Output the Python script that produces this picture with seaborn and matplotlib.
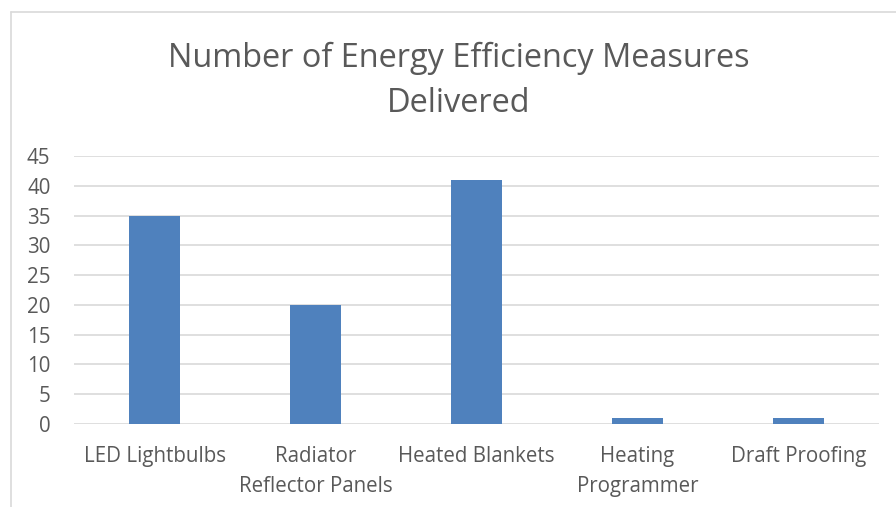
import matplotlib
matplotlib.use("Agg")
import matplotlib.pyplot as plt
import seaborn as sns
import pandas as pd
from matplotlib.lines import Line2D

categories = ["LED Lightbulbs", "Radiator\nReflector Panels", "Heated Blankets",
              "Heating\nProgrammer", "Draft Proofing"]
values = [35, 20, 41, 1, 1]
yticks = [0, 5, 10, 15, 20, 25, 30, 35, 40, 45]
title = "Number of Energy Efficiency Measures\nDelivered"

sns.set_theme(style="white")
plt.rcParams['font.family'] = ['Open Sans', 'DejaVu Sans']

df = pd.DataFrame({"cat": categories, "val": values})

fig = plt.figure(figsize=(8.96, 5.07), dpi=100)
ax = fig.add_axes([74/896, 1-424/507, (879-74)/896, (424-156)/507])
sns.barplot(data=df, x="cat", y="val", ax=ax, color="#4f81bd", width=0.317,
            saturation=1, zorder=3, linewidth=0)
ax.set_ylim(0, 45)
ax.set_yticks(yticks)
ax.yaxis.grid(True, color="#d9d9d9", linewidth=1.2, zorder=0)
ax.set_axisbelow(True)
for s in ax.spines.values():
    s.set_visible(False)
ax.set_xlabel("")
ax.set_ylabel("")
ax.tick_params(axis="both", length=0, colors="#595959", labelsize=14.8)
ax.tick_params(axis="y", pad=17)
ax.tick_params(axis="x", pad=16)
for lbl in ax.get_xticklabels():
    lbl.set_multialignment("center")
    lbl.set_linespacing(1.55)

fig.text(459/896, 1-81/507, title, ha="center", va="center", fontsize=23.4,
         color="#595959", linespacing=1.5)

# chart border
fig.add_artist(Line2D([10.5/896, 10.5/896], [0, 1-12/507], color="#d9d9d9",
                      linewidth=1.2, transform=fig.transFigure))
fig.add_artist(Line2D([10.5/896, 1], [1-12/507, 1-12/507], color="#d9d9d9",
                      linewidth=1.2, transform=fig.transFigure))

fig.savefig("out.png", dpi=100)
